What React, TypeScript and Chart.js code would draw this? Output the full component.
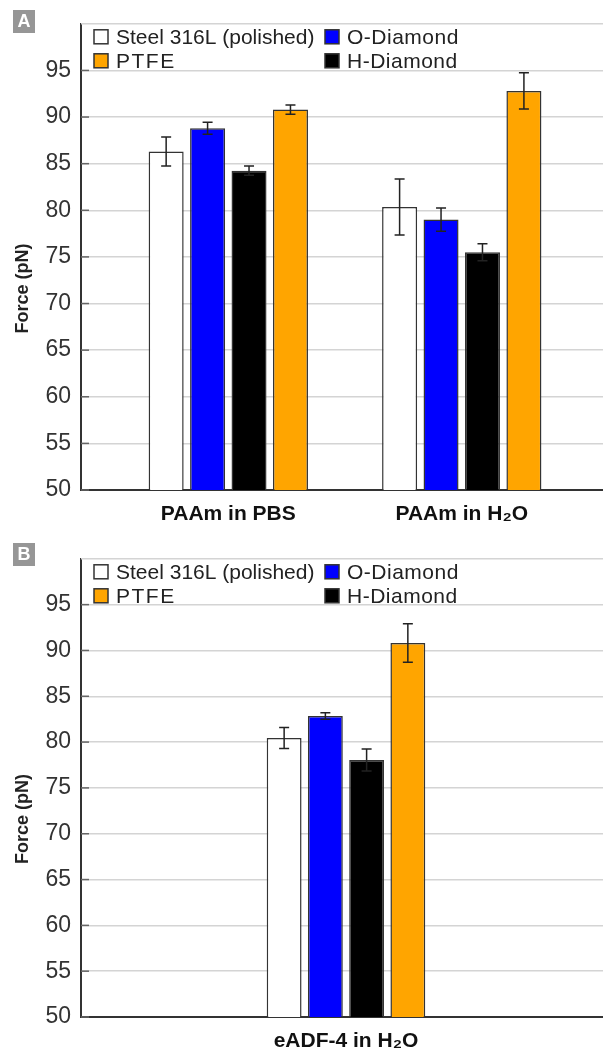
import React, { useEffect, useRef } from 'react';
import { Chart, registerables } from 'chart.js';

Chart.register(...registerables);

const FONT = "'Liberation Sans', Arial, Helvetica, sans-serif";

// Series (legend) definitions
const seriesLabels = ['Steel 316L (polished)', 'O-Diamond', 'H-Diamond', 'PTFE'];
const seriesColors = ['#ffffff', '#0000ff', '#000000', '#ffa500'];
const yAxisTitle = 'Force (pN)';

// Panel A data
const categoriesA = ['PAAm in PBS', 'PAAm in H₂O'];
const steelA = [86.3, 80.35];
const steelErrA = [1.55, 3.0];
const oDiamondA = [88.8, 79.0];
const oDiamondErrA = [0.65, 1.25];
const hDiamondA = [84.25, 75.5];
const hDiamondErrA = [0.5, 0.9];
const ptfeA = [90.8, 92.8];
const ptfeErrA = [0.5, 1.95];

// Panel B data
const categoriesB = ['eADF-4 in H₂O'];
const steelB = [80.45];
const steelErrB = [1.15];
const oDiamondB = [82.85];
const oDiamondErrB = [0.35];
const hDiamondB = [78.05];
const hDiamondErrB = [1.2];
const ptfeB = [90.8];
const ptfeErrB = [2.1];

// Y axis
const yMin = 50;
const yMax = 100;
const yStep = 5;

// legend layout: [column, row] per series
const legendGrid = [
  [0, 0],
  [1, 0],
  [1, 1],
  [0, 1],
];

const decorPlugin = {
  id: 'decor',
  beforeDatasetsDraw(chart: any) {
    const { ctx, chartArea, scales } = chart;
    const y = scales.y;
    ctx.save();
    ctx.strokeStyle = '#d4d4d4';
    ctx.lineWidth = 1.5;
    const yt = y.getPixelForValue(yMax);
    ctx.beginPath();
    ctx.moveTo(chartArea.left, yt);
    ctx.lineTo(chartArea.right, yt);
    ctx.stroke();
    ctx.strokeStyle = '#666';
    for (let v = yMin; v < yMax; v += yStep) {
      const py = y.getPixelForValue(v);
      ctx.beginPath();
      ctx.moveTo(chartArea.left, py);
      ctx.lineTo(chartArea.left + 8, py);
      ctx.stroke();
    }
    ctx.restore();
  },
  afterDatasetsDraw(chart: any) {
    const { ctx, scales } = chart;
    const y = scales.y;
    ctx.save();
    ctx.strokeStyle = '#222';
    ctx.lineWidth = 1.5;
    chart.data.datasets.forEach((ds: any, i: number) => {
      const meta = chart.getDatasetMeta(i);
      meta.data.forEach((el: any, j: number) => {
        const v = ds.data[j].y;
        const e = ds.errors[j];
        const x = el.x;
        const y1 = y.getPixelForValue(v + e);
        const y2 = y.getPixelForValue(v - e);
        ctx.beginPath();
        ctx.moveTo(x, y1);
        ctx.lineTo(x, y2);
        ctx.moveTo(x - 5, y1);
        ctx.lineTo(x + 5, y1);
        ctx.moveTo(x - 5, y2);
        ctx.lineTo(x + 5, y2);
        ctx.stroke();
      });
    });
    ctx.restore();
  },
  afterDraw(chart: any, _args: any, opts: any) {
    const { ctx, chartArea } = chart;
    ctx.save();
    chart.data.datasets.forEach((ds: any, i: number) => {
      const [col, row] = legendGrid[i];
      const bx = chartArea.left + 13 + col * 231;
      const by = chartArea.top + 6 + row * 24;
      ctx.fillStyle = ds.backgroundColor;
      ctx.fillRect(bx, by, 14, 14);
      ctx.strokeStyle = '#333';
      ctx.lineWidth = 1.5;
      ctx.strokeRect(bx, by, 14, 14);
      ctx.fillStyle = '#222';
      ctx.font = `21px ${FONT}`;
      (ctx as any).letterSpacing = i === 0 ? '0px' : i === 3 ? '1.5px' : '0.5px';
      ctx.textAlign = 'left';
      ctx.textBaseline = 'alphabetic';
      ctx.fillText(ds.label, bx + 22, by + 14);
    });
    (ctx as any).letterSpacing = '0px';
    const cy = chartArea.top + 0.568 * (chartArea.bottom - chartArea.top);
    ctx.translate(chartArea.left - 58, cy);
    ctx.rotate(-Math.PI / 2);
    ctx.fillStyle = '#222';
    ctx.font = `bold 18px ${FONT}`;
    ctx.textAlign = 'center';
    ctx.textBaseline = 'middle';
    ctx.fillText(yAxisTitle, 0, 0);
    ctx.setTransform(1, 0, 0, 1, 0, 0);
    ctx.fillStyle = '#969696';
    ctx.fillRect(13, opts.letterTop, 22, 23);
    ctx.fillStyle = '#ffffff';
    ctx.font = `bold 18px ${FONT}`;
    ctx.textAlign = 'center';
    ctx.textBaseline = 'middle';
    ctx.fillText(opts.letter, 24, opts.letterTop + 12.5);
    ctx.restore();
  },
};

type PanelProps = {
  letter: string;
  letterTop: number;
  categories: string[];
  values: number[][];
  errors: number[][];
  xMin: number;
  xMax: number;
  catPct: number;
  height: number;
  padTop: number;
  xAxisHeight: number;
};

function Panel(p: PanelProps) {
  const ref = useRef<HTMLCanvasElement>(null);
  useEffect(() => {
    const chart = new Chart(ref.current as HTMLCanvasElement, {
      type: 'bar',
      data: {
        datasets: seriesLabels.map((lab, i) => ({
          label: lab,
          data: p.categories.map((_, j) => ({ x: j + 1, y: p.values[i][j] })),
          errors: p.errors[i],
          backgroundColor: seriesColors[i],
          borderColor: '#333',
          borderWidth: 1.5,
          categoryPercentage: p.catPct,
          barPercentage: 0.845,
        })) as any,
      },
      options: {
        responsive: false,
        animation: false,
        devicePixelRatio: 1,
        layout: { padding: { top: p.padTop, left: 0, right: 0, bottom: 0 } },
        plugins: {
          legend: { display: false },
          tooltip: { enabled: false },
          decor: { letter: p.letter, letterTop: p.letterTop },
        } as any,
        scales: {
          x: {
            type: 'linear',
            offset: false,
            bounds: 'data',
            min: p.xMin,
            max: p.xMax,
            grid: { display: false, drawTicks: false, offset: false },
            border: { color: '#333', width: 2 },
            afterDataLimits: (axis: any) => {
              axis.min = p.xMin;
              axis.max = p.xMax;
            },
            afterBuildTicks: (axis: any) => {
              axis.ticks = p.categories.map((_, i) => ({ value: i + 1 }));
              axis.min = p.xMin;
              axis.max = p.xMax;
            },
            afterFit: (axis: any) => {
              axis.height = p.xAxisHeight;
            },
            ticks: {
              autoSkip: false,
              maxRotation: 0,
              padding: 12,
              color: '#111',
              font: { family: FONT, size: 21, weight: 'bold' },
              callback: (v: any) => p.categories[Math.round(Number(v)) - 1] ?? '',
            },
          },
          y: {
            min: yMin,
            max: yMax,
            afterFit: (axis: any) => {
              axis.width = 81;
            },
            grid: { color: '#d4d4d4', lineWidth: 1.5, drawTicks: false },
            border: { color: '#333', width: 2 },
            ticks: {
              stepSize: yStep,
              padding: 10,
              color: '#333',
              font: { family: FONT, size: 23 },
              callback: (v: any) => (Number(v) >= yMax ? null : String(v)),
            },
          },
        } as any,
      },
      plugins: [decorPlugin],
    });
    return () => chart.destroy();
  }, []);
  return <canvas ref={ref} width={603} height={p.height} style={{ display: 'block', width: 603, height: p.height }} />;
}

export default function App() {
  return (
    <div style={{ position: 'fixed', left: 0, top: 0, width: 603, height: 1051, background: '#fff' }}>
      <Panel
        letter="A"
        letterTop={10}
        categories={categoriesA}
        values={[steelA, oDiamondA, hDiamondA, ptfeA]}
        errors={[steelErrA, oDiamondErrA, hDiamondErrA, ptfeErrA]}
        xMin={0.369}
        xMax={2.605}
        catPct={0.71}
        height={535}
        padTop={13}
        xAxisHeight={45}
      />
      <Panel
        letter="B"
        letterTop={8}
        categories={categoriesB}
        values={[steelB, oDiamondB, hDiamondB, ptfeB]}
        errors={[steelErrB, oDiamondErrB, hDiamondErrB, ptfeErrB]}
        xMin={-0.0153}
        xMax={1.9847}
        catPct={0.316}
        height={516}
        padTop={6.5}
        xAxisHeight={34}
      />
    </div>
  );
}
